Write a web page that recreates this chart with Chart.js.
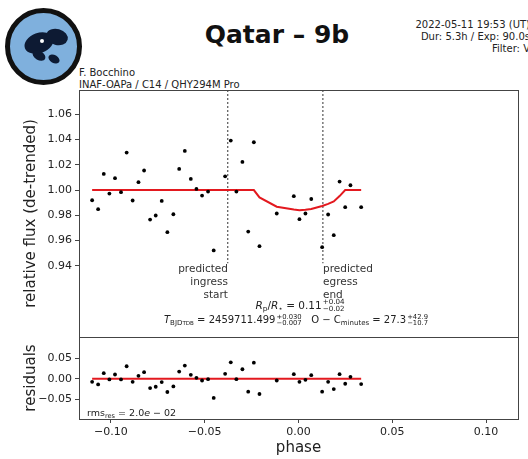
<!DOCTYPE html>
<html>
<head>
<meta charset="utf-8">
<script src="https://cdn.jsdelivr.net/npm/chart.js@4.4.0/dist/chart.umd.min.js"></script>
<style>
  html, body { margin: 0; padding: 0; background: #fff; }
  #wrap { position: relative; width: 528px; height: 459px; overflow: hidden; font-family: "DejaVu Sans", sans-serif; color: #222; }
  canvas { position: absolute; left: 0; top: 0; }
  .t { position: absolute; white-space: nowrap; }
  sub { font-size: 0.7em; vertical-align: -0.3em; line-height: 0; }
  .ss { display: inline-flex; flex-direction: column; font-size: 0.68em; line-height: 0.95em; vertical-align: middle; margin-left: 1px; }
  .logo { position: absolute; left: 5px; top: 8px; width: 67px; height: 67px; border-radius: 50%; border: 5px solid #111; background: #7fb0dd; overflow: hidden; }
  .logo .b { position: absolute; background: #0d1a33; border-radius: 50%; }
</style>
</head>
<body>
<div id="wrap">
  <div class="logo">
    <div class="b" style="left:14px;top:20px;width:30px;height:20px;transform:rotate(-20deg)"></div>
    <div class="b" style="left:36px;top:16px;width:22px;height:16px;transform:rotate(15deg)"></div>
    <div class="b" style="left:22px;top:38px;width:14px;height:9px;transform:rotate(30deg)"></div>
    <div class="b" style="left:38px;top:42px;width:12px;height:8px;transform:rotate(30deg)"></div>
    <div class="b" style="left:30px;top:26px;width:4px;height:4px;background:#fff"></div>
  </div>
  <div class="t" style="left:157px;top:19px;width:240px;text-align:center;font-size:25px;font-weight:bold;line-height:32px;color:#111">Qatar – 9b</div>
  <div class="t" style="right:-2px;top:19px;text-align:right;font-size:10px;line-height:12px">2022-05-11 19:53 (UT)<br>Dur: 5.3h / Exp: 90.0s<br>Filter: V</div>
  <div class="t" style="left:79px;top:67px;font-size:10px;line-height:11.5px">F. Bocchino<br>INAF-OAPa / C14 / QHY294M Pro</div>

  <canvas id="main" width="528" height="459"></canvas>
  <canvas id="res" width="528" height="459"></canvas>

  <div class="t" style="right:300px;top:262px;text-align:right;font-size:10.5px;line-height:13px;color:#333">predicted<br>ingress<br>start</div>
  <div class="t" style="left:323px;top:262px;text-align:left;font-size:10.5px;line-height:13px;color:#333">predicted<br>egress<br>end</div>
  <div class="t" style="left:150px;top:297px;width:300px;text-align:center;font-size:10.5px;line-height:16px"><i>R</i><sub>p</sub>/<i>R</i><sub>⋆</sub> = 0.11<span class="ss"><span>+0.04</span><span>−0.02</span></span></div>
  <div class="t" style="left:46px;top:312px;width:500px;text-align:center;font-size:10px;line-height:16px"><i>T</i><sub>BJD<span style="font-size:0.8em">TDB</span></sub> = 2459711.499<span class="ss"><span>+0.030</span><span>−0.007</span></span>&nbsp;&nbsp; O − C<sub>minutes</sub> = 27.3<span class="ss"><span>+42.9</span><span>−10.7</span></span></div>
  <div class="t" style="left:87px;top:406px;font-size:9.5px;line-height:14px">rms<sub>res</sub> = 2.0<i>e</i> − 02</div>
</div>

<script>
// values
const phase = [-0.1100, -0.1068, -0.1038, -0.1008, -0.0978, -0.0946, -0.0916, -0.0884, -0.0853, -0.0823,
  -0.0791, -0.0761, -0.0729, -0.0699, -0.0667, -0.0636, -0.0606, -0.0574, -0.0544, -0.0514,
  -0.0482, -0.0452, -0.0391, -0.0361, -0.0331, -0.0299, -0.0268, -0.0238, -0.0208, -0.0116,
  -0.0025, 0.0005, 0.0037, 0.0068, 0.0126, 0.0158, 0.0188, 0.0219, 0.0249, 0.0277, 0.0334];
const flux = [0.9919, 0.9848, 1.0128, 0.9972, 1.0094, 0.9983, 1.0297, 0.9917, 1.0062, 1.0155,
  0.9766, 0.9798, 0.9914, 0.9666, 0.9808, 1.0167, 1.0310, 1.0088, 1.0009, 0.9956,
  0.9988, 0.9521, 1.0109, 1.0392, 0.9988, 1.0223, 0.9671, 1.0379, 0.9555, 0.9814,
  0.9951, 0.9769, 0.9814, 0.9929, 0.9547, 0.9806, 0.9642, 1.0067, 0.9864, 1.0038, 0.9864];
const model = [1.000, 1.000, 1.000, 1.000, 1.000, 1.000, 1.000, 1.000, 1.000, 1.000,
  1.000, 1.000, 1.000, 1.000, 1.000, 1.000, 1.000, 1.000, 1.000, 1.000,
  1.000, 1.000, 1.000, 1.000, 1.000, 1.000, 1.000, 1.000, 0.9942, 0.9868,
  0.9845, 0.9840, 0.9843, 0.9850, 0.9874, 0.9890, 0.9910, 0.9952, 1.000, 1.000, 1.000];
const resid = [-0.0073, -0.0138, 0.0138, -0.0016, 0.0106, -0.0016, 0.0309, -0.0073, 0.0073, 0.0163,
  -0.0228, -0.0195, -0.0081, -0.0325, -0.0187, 0.0179, 0.0325, 0.0098, 0.0024, -0.0041,
  -0.0008, -0.0472, 0.0122, 0.0407, -0.0008, 0.0236, -0.0317, 0.0398, -0.0374, -0.0041,
  0.0114, -0.0073, -0.0024, 0.0089, -0.0317, -0.0073, -0.0252, 0.0114, -0.0122, 0.0049, -0.0130];

const fluxTicks = [0.94, 0.96, 0.98, 1.00, 1.02, 1.04, 1.06];
const residTicks = [-0.05, 0.00, 0.05];
const phaseTicks = [-0.10, -0.05, 0.00, 0.05, 0.10];
const ingressPhase = -0.0377;
const egressPhase = 0.0130;
const markerBottom = 0.942;

const X_MIN = -0.117, X_MAX = 0.117;
const FLUX_MIN = 0.8835, FLUX_MAX = 1.0793;
const RES_MIN = -0.099, RES_MAX = 0.103;

Chart.defaults.font.family = '"DejaVu Sans", sans-serif';
Chart.defaults.color = "#222";
Chart.defaults.animation = false;

const AXIS = "#444";
const RED = "#e3191f";

const pts = (ys) => phase.map((x, i) => ({ x, y: ys[i] }));
const fmt = (v) => v.toFixed(2).replace("-", "\u2212");

// box around the plot area, like matplotlib spines
const frame = {
  id: "frame",
  afterDraw(c) {
    const { ctx, chartArea: a } = c;
    ctx.save();
    ctx.strokeStyle = AXIS;
    ctx.lineWidth = 1;
    ctx.strokeRect(Math.round(a.left) + 0.5, Math.round(a.top) + 0.5, Math.round(a.right - a.left), Math.round(a.bottom - a.top));
    ctx.restore();
  },
};

function yAxis(min, max, ticks, label) {
  return {
    min, max,
    afterBuildTicks: (s) => { s.ticks = ticks.map((v) => ({ value: v })); },
    afterFit: (s) => { s.width = 79; },
    ticks: { callback: (v) => fmt(v), font: { size: 11 }, padding: 3 },
    grid: { drawOnChartArea: false, drawTicks: true, tickLength: 4, color: AXIS },
    border: { display: false },
    title: { display: true, text: label, font: { size: 15 }, padding: { top: 22, bottom: 0 } },
  };
}

new Chart(document.getElementById("main"), {
  type: "scatter",
  data: {
    datasets: [
      { data: pts(flux), pointRadius: 1.9, pointBackgroundColor: "#000", pointBorderWidth: 0 },
      { data: pts(model), showLine: true, borderColor: RED, borderWidth: 2, pointRadius: 0 },
      { data: [{ x: ingressPhase, y: FLUX_MAX }, { x: ingressPhase, y: markerBottom }], showLine: true,
        borderColor: "#333", borderWidth: 1, borderDash: [2, 2], pointRadius: 0 },
      { data: [{ x: egressPhase, y: FLUX_MAX }, { x: egressPhase, y: markerBottom }], showLine: true,
        borderColor: "#333", borderWidth: 1, borderDash: [2, 2], pointRadius: 0 },
    ],
  },
  options: {
    responsive: false,
    devicePixelRatio: 1,
    layout: { padding: { top: 90, right: 10, bottom: 122, left: 0 } },
    plugins: { legend: { display: false }, tooltip: { enabled: false } },
    scales: {
      x: { type: "linear", min: X_MIN, max: X_MAX, display: false },
      y: yAxis(FLUX_MIN, FLUX_MAX, fluxTicks, "relative flux (de-trended)"),
    },
  },
  plugins: [frame],
});

new Chart(document.getElementById("res"), {
  type: "scatter",
  data: {
    datasets: [
      { data: pts(resid), pointRadius: 1.9, pointBackgroundColor: "#000", pointBorderWidth: 0 },
      { data: [{ x: phase[0], y: 0 }, { x: phase[phase.length - 1], y: 0 }], showLine: true,
        borderColor: RED, borderWidth: 2, pointRadius: 0 },
    ],
  },
  options: {
    responsive: false,
    devicePixelRatio: 1,
    layout: { padding: { top: 337, right: 10, bottom: 0, left: 0 } },
    plugins: { legend: { display: false }, tooltip: { enabled: false } },
    scales: {
      x: {
        type: "linear", min: X_MIN, max: X_MAX,
        afterBuildTicks: (s) => { s.ticks = phaseTicks.map((v) => ({ value: v })); },
        afterFit: (s) => { s.height = 40; },
        ticks: { callback: (v) => fmt(v), font: { size: 11 }, padding: 3, maxRotation: 0 },
        grid: { drawOnChartArea: false, drawTicks: true, tickLength: 4, color: AXIS },
        border: { display: false },
        title: { display: true, text: "phase", font: { size: 15 }, padding: { top: 0, bottom: 2 } },
      },
      y: yAxis(RES_MIN, RES_MAX, residTicks, "residuals"),
    },
  },
  plugins: [frame],
});
</script>
</body>
</html>
